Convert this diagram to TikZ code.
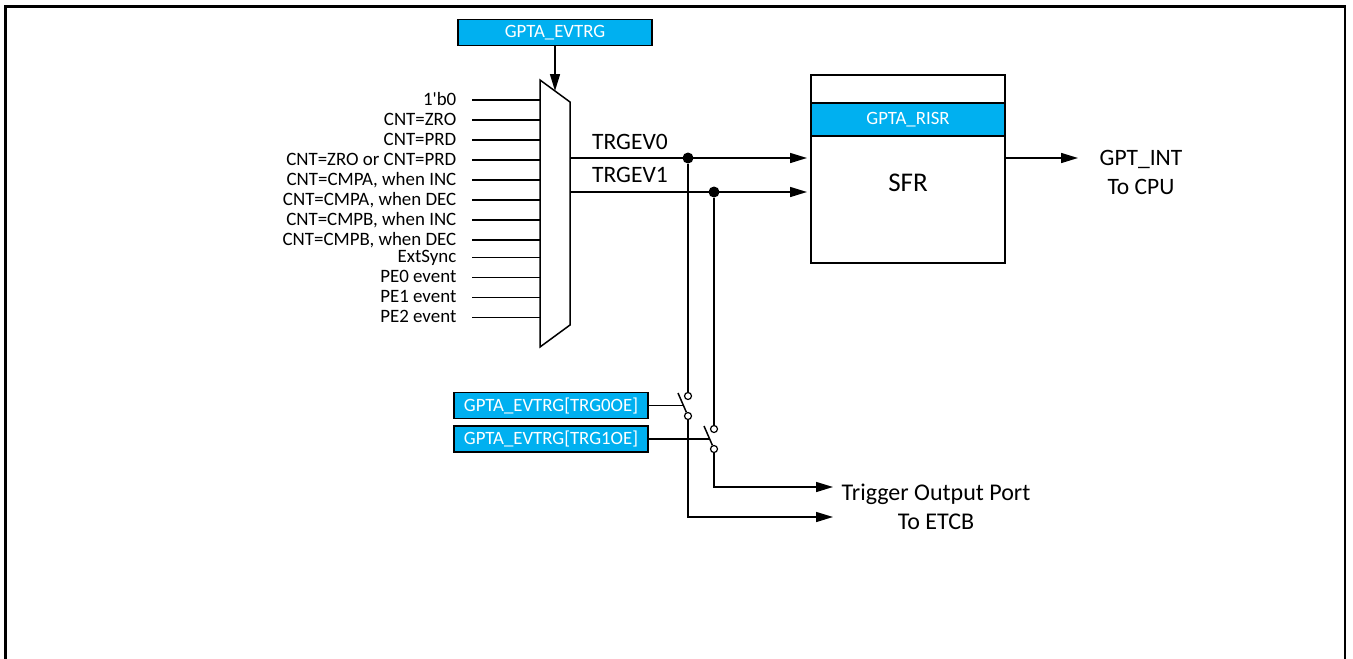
\documentclass[tikz,border=0pt]{standalone}
\usepackage{fontspec}
\setmainfont{Carlito}
\usetikzlibrary{arrows.meta}
\definecolor{regblue}{RGB}{0,176,240}
\tikzset{
    regbox/.style={draw, line width=1.6pt, fill=regblue, text=white, font=\fontsize{18.8}{20}\selectfont, minimum height=26pt, inner sep=0pt, outer sep=0pt, anchor=north west},
    siglabel/.style={anchor=east, inner ysep=0pt, inner xsep=15.5pt, text height=15pt, text depth=4pt, font=\fontsize{18.9}{20}\selectfont},
    bigtext/.style={font=\fontsize{23.5}{29}\selectfont, inner sep=0pt},
    wire/.style={line width=1.5pt},
    arrowwire/.style={wire, -{Triangle[length=17pt,width=10pt]}},
    joint/.style={circle, fill=black, inner sep=0pt, minimum size=11pt},
    contact/.style={circle, draw, fill=white, line width=1.2pt, inner sep=0pt, minimum size=7pt}
}
\begin{document}
\begin{tikzpicture}[x=1pt,y=-1pt]
\useasboundingbox (0,0) rectangle (1353,659);
% frame
\draw[line width=2.8pt] (5.5,662)--(5.5,6.5)--(1345,6.5)--(1345,662);
% mux
\coordinate (muxTL) at (540,80);
\coordinate (muxTR) at (570,102);
\coordinate (muxBR) at (570,325);
\coordinate (muxBL) at (540,347);
\draw[wire, fill=white] (muxTL)--(muxTR)--(muxBR)--(muxBL)--cycle;
\node[regbox, minimum width=194pt] (evtrg) at (458,19.5) {GPTA\_EVTRG};
\coordinate (muxsel) at (555,91);
\draw[arrowwire] (muxsel |- evtrg.south)--(muxsel);
% inputs
\foreach \i/\y/\txt in {0/100/1\textquotesingle b0, 1/120/CNT=ZRO, 2/140/CNT=PRD, 3/160/CNT=ZRO or CNT=PRD,
    4/180/{CNT=CMPA, when INC}, 5/200/{CNT=CMPA, when DEC}, 6/220/{CNT=CMPB, when INC}, 7/240/{CNT=CMPB, when DEC},
    8/257.3/ExtSync, 9/277.3/PE0 event, 10/297.3/PE1 event, 11/317.3/PE2 event}
{
    \node[siglabel] (in\i) at (472,\y) {\txt};
    \draw[wire] (in\i.east)--(in\i.east -| muxTL);
}
% SFR
\node[draw, line width=1.3pt, minimum width=194pt, minimum height=188pt, inner sep=0pt, outer sep=0pt, anchor=north west] (sfr) at (811,75) {};
\node[regbox, minimum width=194pt, minimum height=33pt] (risr) at (811,103) {GPTA\_RISR};
\node[bigtext, font=\fontsize{27}{30}\selectfont] (sfrtext) at (908,183) {SFR};
% outputs
\coordinate (ev0) at (570,158);
\coordinate (ev1) at (570,192);
\coordinate (ev0end) at (807,158);
\coordinate (ev1end) at (807,192);
\node[bigtext] (ev0text) at (630,142) {TRGEV0};
\node[bigtext] (ev1text) at (630,175) {TRGEV1};
\draw[arrowwire] (ev0)--(ev0end);
\draw[arrowwire] (ev1)--(ev1end);
\node[joint] (dot0) at (688,158) {};
\node[joint] (dot1) at (714,192) {};
\coordinate (intfrom) at (1005,158);
\coordinate (intto) at (1078,158);
\draw[arrowwire] (intfrom)--(intto);
\node[bigtext, align=center] (gptint) at (1141,172.5) {GPT\_INT\\To CPU};
% switches
\node[regbox, minimum width=194pt] (trg0) at (454,392.5) {GPTA\_EVTRG[TRG0OE]};
\node[regbox, minimum width=194pt] (trg1) at (454,426) {GPTA\_EVTRG[TRG1OE]};
\coordinate (arm0) at (678,393);
\coordinate (arm1) at (704,426);
\coordinate (out0) at (833,517);
\coordinate (out1) at (833,487);
\node[contact] (sw0a) at (688,396) {};
\node[contact] (sw0b) at (688,416) {};
\node[contact] (sw1a) at (714,429) {};
\node[contact] (sw1b) at (714,449) {};
\draw[wire] (dot0)--(sw0a);
\draw[wire] (dot1)--(sw1a);
\draw[arrowwire] (sw0b) |- (out0);
\draw[arrowwire] (sw1b) |- (out1);
\draw[wire] (arm0)--(sw0b);
\draw[wire] (arm1)--(sw1b);
\draw[wire] (trg0.east)--++(35.5,0);
\draw[wire] (trg1.east)--++(61,0);
\node[bigtext, align=center, font=\fontsize{24}{29}\selectfont] (portext) at (936,506.5) {Trigger Output Port\\To ETCB};
\end{tikzpicture}
\end{document}
